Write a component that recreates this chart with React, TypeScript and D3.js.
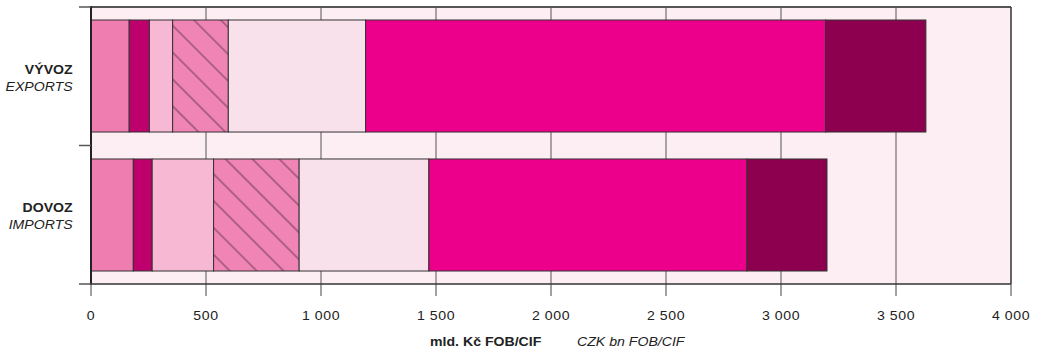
import React from "react";
import * as d3 from "d3";

const categories = ["VÝVOZ", "DOVOZ"];
const categoriesEn = ["EXPORTS", "IMPORTS"];
const segmentKeys = ["s1", "s2", "s3", "s4", "s5", "s6", "s7"];
const exportsValues = [166, 88, 101, 242, 597, 2000, 436];
const importsValues = [184, 82, 267, 372, 564, 1383, 348];
const segmentColors = ["#f07daf", "#bd006c", "#f7b8d4", "#f085b5", "#f9e1eb", "#ec008b", "#8c004f"];
const hatchedSegment = "s4";
const tickValues = [0, 500, 1000, 1500, 2000, 2500, 3000, 3500, 4000];
const axisTitleCz = "mld. Kč FOB/CIF";
const axisTitleEn = "CZK bn FOB/CIF";

const W = 1043;
const H = 355;
const left = 91;
const right = 1011;
const top = 7;
const bottom = 284;
const SX = 1.13;
const FONT = "'Liberation Sans', Arial, Helvetica, sans-serif";
const FS = 12.5;

export default function App() {
  const x = d3.scaleLinear().domain([0, 4000]).range([left, right]);
  const y = d3
    .scaleBand<string>()
    .domain(categories)
    .range([top, bottom])
    .paddingInner(0.194)
    .paddingOuter(0.0935);

  const rows = categories.map((c, i) => {
    const vals = i === 0 ? exportsValues : importsValues;
    const obj: any = { cat: c };
    segmentKeys.forEach((k, j) => (obj[k] = vals[j]));
    return obj;
  });
  const stacked = d3.stack<any>().keys(segmentKeys)(rows);

  const fmt = (v: number) => d3.format(",")(v).replace(",", " ");
  const bandEdges = [top, (y(categories[1]) as number) - (y.step() * y.paddingInner()) / 2, bottom];

  const txt = (
    s: string,
    tx: number,
    ty: number,
    anchor: string,
    weight: string | number = "normal",
    style = "normal",
    ls = 0
  ) => (
    <text
      transform={`translate(${tx},${ty}) scale(${SX},1)`}
      textAnchor={anchor}
      fontFamily={FONT}
      fontSize={FS}
      fontWeight={weight}
      fontStyle={style}
      letterSpacing={ls}
      fill="#222"
    >
      {s}
    </text>
  );

  return (
    <svg width={W} height={H} style={{ position: "absolute", left: 0, top: 0 }}>
      <defs>
        <pattern
          id="hatch"
          patternUnits="userSpaceOnUse"
          width={19}
          height={19}
          patternTransform="rotate(-45)"
        >
          <rect width={19} height={19} fill={segmentColors[3]} />
          <line x1={9} y1={0} x2={9} y2={19} stroke="#4a2438" strokeWidth={0.8} />
        </pattern>
      </defs>
      <rect x={left} y={top} width={right - left} height={bottom - top} fill="#fdeef4" />
      {tickValues.slice(1, -1).map((t) => (
        <line key={"g" + t} x1={x(t)} x2={x(t)} y1={top} y2={bottom} stroke="#555" strokeWidth={1} />
      ))}
      {stacked.map((layer, li) =>
        layer.map((d, di) => (
          <rect
            key={layer.key + di}
            x={x(d[0])}
            width={x(d[1]) - x(d[0])}
            y={y(categories[di])}
            height={y.bandwidth()}
            fill={layer.key === hatchedSegment ? "url(#hatch)" : segmentColors[li]}
            stroke="#333"
            strokeWidth={1}
          />
        ))
      )}
      <line x1={left} x2={right} y1={top} y2={top} stroke="#555" strokeWidth={2} />
      <line x1={right} x2={right} y1={top} y2={bottom} stroke="#333" strokeWidth={1.5} />
      <line x1={left} x2={left} y1={top - 1} y2={bottom + 1} stroke="#222" strokeWidth={2} />
      <line x1={left} x2={right} y1={bottom} y2={bottom} stroke="#333" strokeWidth={1.5} />
      {bandEdges.map((e, i) => (
        <line key={"yt" + i} x1={79} x2={left} y1={e} y2={e} stroke="#555" strokeWidth={1.5} />
      ))}
      {tickValues.map((t) => (
        <g key={"xt" + t}>
          <line x1={x(t)} x2={x(t)} y1={bottom} y2={296} stroke="#444" strokeWidth={1} />
          {txt(fmt(t), x(t), 319.5, "middle", "normal", "normal", 0.5)}
        </g>
      ))}
      {categories.map((c, i) => {
        const cy = (y(c) as number) + y.bandwidth() / 2;
        return (
          <g key={c}>
            {txt(c, 72.7, cy - 2.5, "end", "bold")}
            {txt(categoriesEn[i], 72.7, cy + 14.5, "end", "normal", "italic")}
          </g>
        );
      })}
      {txt(axisTitleCz, 430, 346, "start", "bold")}
      {txt(axisTitleEn, 577, 346, "start", "normal", "italic")}
    </svg>
  );
}
